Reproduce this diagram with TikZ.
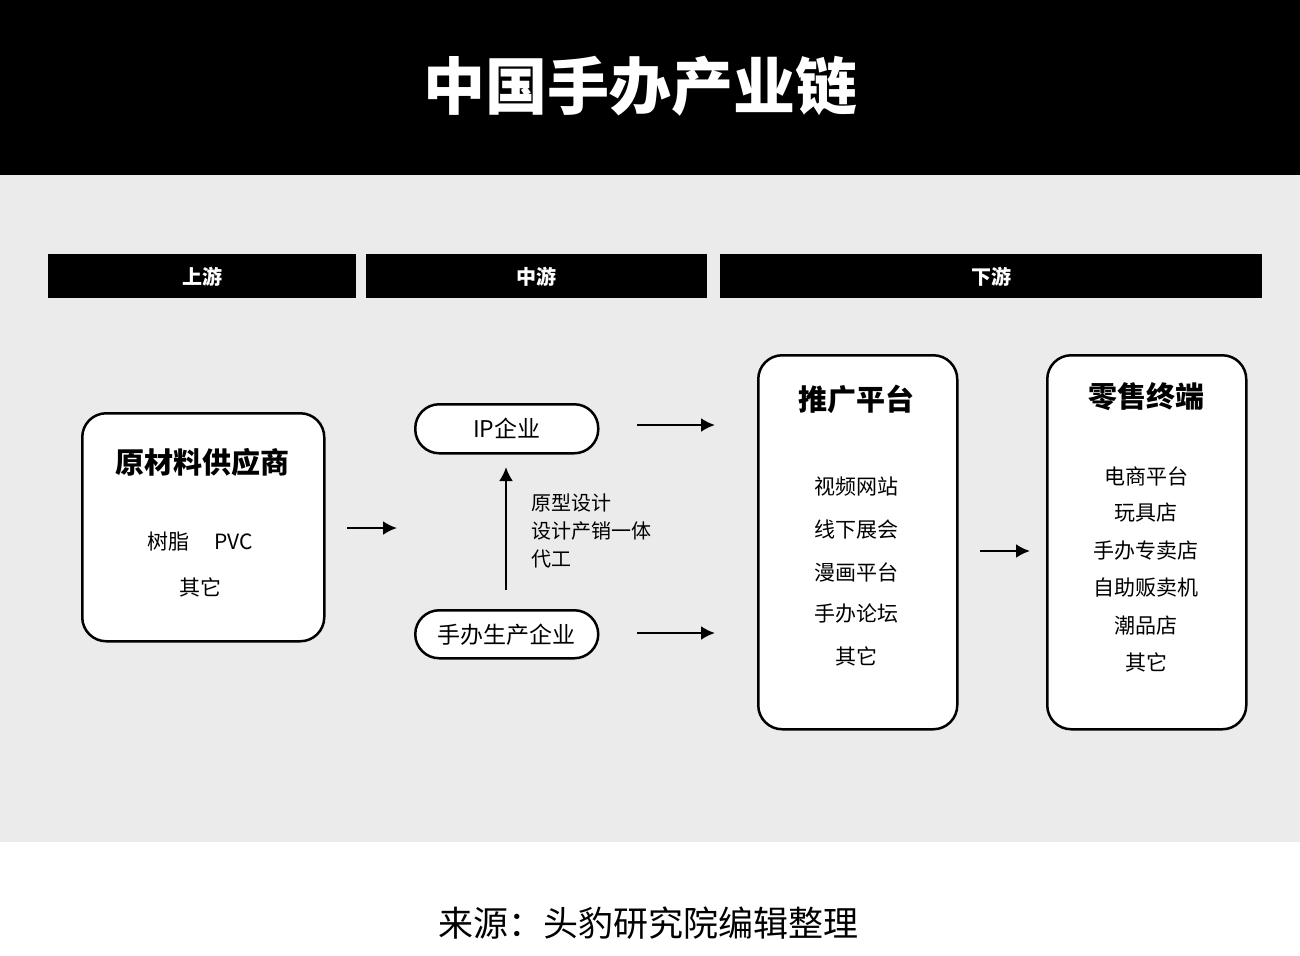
\documentclass[tikz,border=0pt]{standalone}
\usepackage{fontspec}
\setmainfont{Noto Sans CJK SC}
\usetikzlibrary{arrows.meta,positioning}
\definecolor{bandgrey}{HTML}{EBEBEB}
\tikzset{
  bar/.style={fill=black,text=white,font=\fontsize{10}{12}\selectfont\bfseries,inner sep=0pt,anchor=north west},
  box/.style={draw=black,line width=1.25pt,rounded corners=12pt,fill=white,anchor=north west},
  pill/.style={draw=black,line width=1.25pt,rounded corners=12pt,fill=white,anchor=north west,font=\fontsize{11.5}{13}\selectfont},
  item/.style={font=\fontsize{10.5}{12}\selectfont},
  boxtitle/.style={font=\fontsize{14.5}{16}\selectfont\bfseries},
  arr/.style={line width=1.25pt,-{Latex[length=7pt,width=7pt]}}
}
\begin{document}
\begin{tikzpicture}[x=0.5pt,y=-0.5pt]
\useasboundingbox (0,0) rectangle (1300,955);
\fill[black] (0,0) rectangle (1300,175);
\fill[bandgrey] (0,175) rectangle (1300,842);
\node[text=white,font=\fontsize{31}{34}\selectfont\bfseries] (title) at (640,86) {中国手办产业链};
\node[font=\fontsize{17.5}{19}\selectfont] (source) at (648,923) {来源：头豹研究院编辑整理};

% stage bars
\node[bar,minimum width=154pt,minimum height=22pt] (up) at (48,254) {上游};
\node[bar,minimum width=170.5pt,minimum height=22pt] (mid) at (366,254) {中游};
\node[bar,minimum width=271pt,minimum height=22pt] (down) at (720,254) {下游};

% boxes
\node[box,minimum width=121pt,minimum height=114pt] (raw) at (81,412) {};
\node[boxtitle] (rawt) at (202,462) {原材料供应商};
\node[item] (raw1) at (200,541) {树脂\hspace{1.2em}PVC};
\node[item] (raw2) at (200,587) {其它};

\node[pill,minimum width=91.5pt,minimum height=24.5pt] (ip) at (414,403) {};
\node[font=\fontsize{11.5}{13}\selectfont] at (ip.center) {IP企业};
\node[pill,minimum width=91.5pt,minimum height=24pt] (maker) at (414,609) {};
\node[font=\fontsize{11.5}{13}\selectfont] at (maker.center) {手办生产企业};

\node[box,minimum width=99.5pt,minimum height=187pt] (promo) at (757,354) {};
\node[boxtitle] (promot) at (856,399) {推广平台};
\foreach \t/\y in {视频网站/487,线下展会/529,漫画平台/572,手办论坛/614,其它/656}
  \node[item] at (856,\y) {\t};

\node[box,minimum width=99.5pt,minimum height=187pt] (retail) at (1046,354) {};
\node[boxtitle] (retailt) at (1146,397) {零售终端};
\foreach \t/\y in {电商平台/476,玩具店/513,手办专卖店/551,自助贩卖机/588,潮品店/626,其它/662}
  \node[item] at (1146,\y) {\t};

% arrows
\coordinate (a1s) at (347,528); \coordinate (a1e) at (397,528);
\draw[arr] (a1s) -- (a1e);
\coordinate (a2s) at (506,590); \coordinate (a2e) at (506,467);
\draw[arr] (a2s) -- (a2e);
\node[font=\fontsize{10}{12}\selectfont,anchor=west,align=left] (oem) at (524,531) {原型设计\\[2pt]设计产销一体\\[2pt]代工};
\coordinate (a3s) at (637,425); \coordinate (a3e) at (715,425);
\draw[arr] (a3s) -- (a3e);
\coordinate (a4s) at (637,633); \coordinate (a4e) at (715,633);
\draw[arr] (a4s) -- (a4e);
\coordinate (a5s) at (980,551); \coordinate (a5e) at (1030,551);
\draw[arr] (a5s) -- (a5e);
\end{tikzpicture}
\end{document}
